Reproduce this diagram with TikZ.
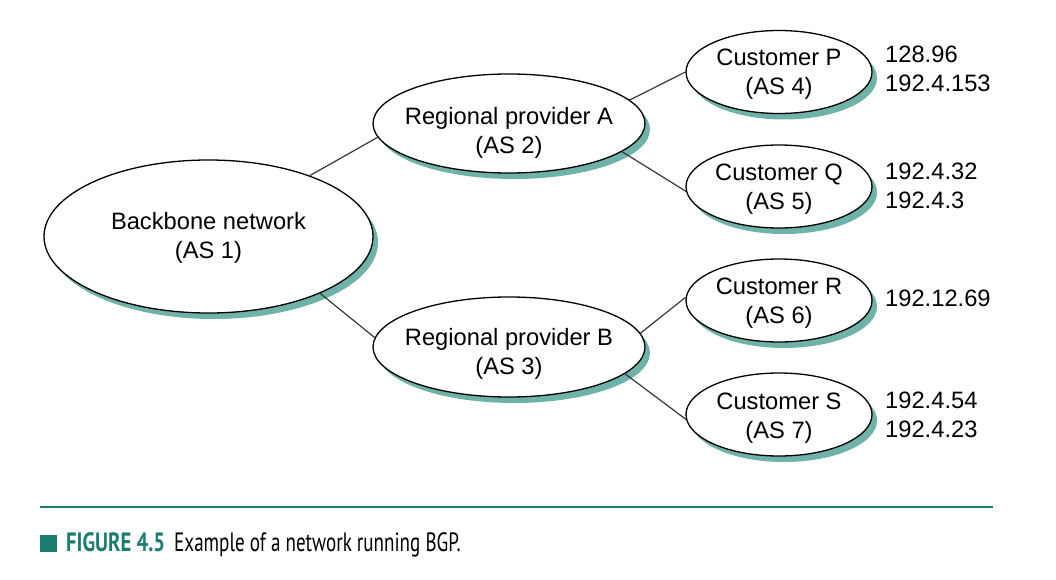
\documentclass[tikz,border=0pt]{standalone}
\usepackage{fontspec}
\setmainfont{Liberation Sans}
\newfontfamily\capfont[FakeStretch=0.72]{PT Sans}
\newfontfamily\capbf[FakeStretch=0.78]{PT Sans}
\usetikzlibrary{shapes.geometric,shadows}
\definecolor{shad}{RGB}{110,178,168}
\definecolor{capteal}{RGB}{25,125,112}
\definecolor{conn}{RGB}{55,55,55}
\begin{document}
\begin{tikzpicture}[x=1pt,y=-1pt,
  as/.style={ellipse, draw=black, line width=1.3pt, fill=white, inner sep=0pt,
    drop shadow={shadow xshift=5pt, shadow yshift=-6pt, fill=shad, opacity=1}},
  cust/.style={as, minimum width=186pt, minimum height=83pt},
  reg/.style={as, minimum width=272pt, minimum height=99pt},
  lbl/.style={align=center, inner sep=0pt, font=\fontsize{23.7}{29}\selectfont},
  num/.style={align=left, anchor=west, inner sep=0pt, font=\fontsize{23.7}{29}\selectfont},
  link/.style={draw=conn, line width=1.2pt},
  capf/.style={anchor=base west, inner sep=0pt, font=\capfont\fontsize{26.5}{30}\selectfont}
]
\useasboundingbox (0,0) rectangle (1056,580);

% ellipses
\node[as, minimum width=329pt, minimum height=153pt] (bb) at (208.5,236.5) {};
\node[reg] (A) at (509,123.5) {};
\node[reg, minimum height=100pt] (B) at (509,347) {};
\node[cust] (P) at (779,72) {};
\node[cust] (Q) at (779,186.5) {};
\node[cust] (R) at (779,300.5) {};
\node[cust] (S) at (779,414.5) {};

% labels inside
\node[lbl] (bbt) at (208.5,237.5) {Backbone network\\(AS 1)};
\node[lbl] (At) at (509,133) {Regional provider A\\(AS 2)};
\node[lbl] (Bt) at (509,353.5) {Regional provider B\\(AS 3)};
\node[lbl] (Pt) at (779,74.4) {Customer P\\(AS 4)};
\node[lbl] (Qt) at (779,189.5) {Customer Q\\(AS 5)};
\node[lbl] (Rt) at (779,303.4) {Customer R\\(AS 6)};
\node[lbl] (St) at (779,417.9) {Customer S\\(AS 7)};

% connectors
\draw[link] (bb.31.8) -- (A.186.3);
\draw[link] (bb.-27.6) -- (B.176.2);
\draw[link] (A.11.7) -- (P.180);
\draw[link] (A.-14.6) -- (Q.183.4);
\draw[link] (B.6.2) -- (R.178.4);
\draw[link] (B.-13.2) -- (S.183.4);

% addresses
\node[num] (Pn) at (885,69) {128.96\\192.4.153};
\node[num] (Qn) at (885,186) {192.4.32\\192.4.3};
\node[num] (Rn) at (885,298.5) {192.12.69};
\node[num] (Sn) at (885,415) {192.4.54\\192.4.23};

% caption
\draw[capteal, line width=1.5pt] (40,507) -- (993,507);
\fill[capteal] (40,535) rectangle (57,552);
\node[capf, text=capteal, font=\capbf\bfseries\fontsize{26.5}{30}\selectfont] (fig) at (66,551) {FIGURE 4.5};
\node[capf] (cap) at (174,551) {Example of a network running BGP.};
\end{tikzpicture}
\end{document}
